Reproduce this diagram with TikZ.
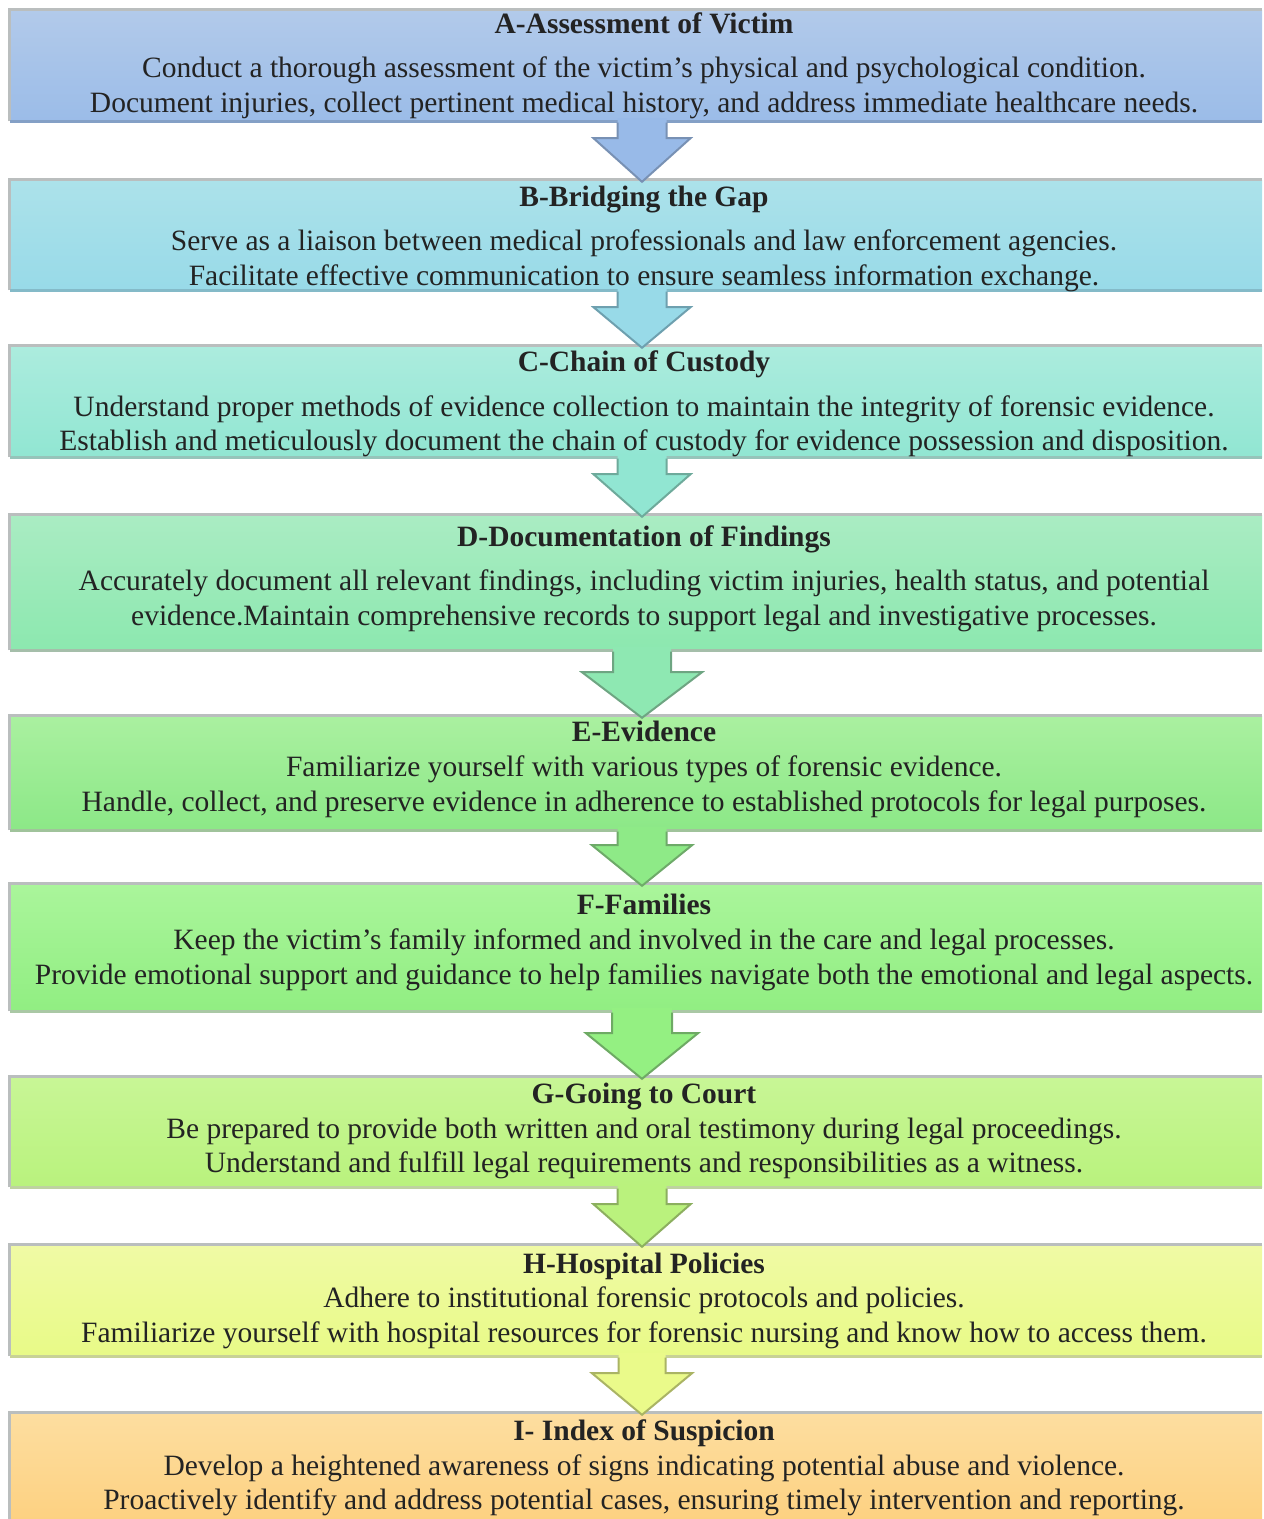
\documentclass[tikz,border=0pt]{standalone}
\usepackage{fontspec}
\setmainfont{Liberation Serif}
\usetikzlibrary{calc}
\definecolor{framegrey}{RGB}{186,190,190}
\definecolor{txt}{RGB}{35,35,35}
\definecolor{aT}{RGB}{178,202,234}\definecolor{aB}{RGB}{155,188,232}\definecolor{aE}{RGB}{132,160,198}
\definecolor{bT}{RGB}{172,226,234}\definecolor{bB}{RGB}{152,218,232}\definecolor{bE}{RGB}{132,186,200}
\definecolor{cT}{RGB}{172,236,222}\definecolor{cB}{RGB}{145,230,210}\definecolor{cE}{RGB}{150,196,186}
\definecolor{dT}{RGB}{170,236,195}\definecolor{dB}{RGB}{140,232,175}\definecolor{dE}{RGB}{165,190,170}
\definecolor{eT}{RGB}{170,240,160}\definecolor{eB}{RGB}{140,232,135}\definecolor{eE}{RGB}{160,195,155}
\definecolor{fT}{RGB}{170,245,155}\definecolor{fB}{RGB}{145,238,130}\definecolor{fE}{RGB}{170,200,165}
\definecolor{gT}{RGB}{200,246,150}\definecolor{gB}{RGB}{185,242,125}\definecolor{gE}{RGB}{190,210,160}
\definecolor{hT}{RGB}{240,250,165}\definecolor{hB}{RGB}{232,250,135}\definecolor{hE}{RGB}{200,210,150}
\definecolor{iT}{RGB}{253,222,160}\definecolor{iB}{RGB}{253,206,122}\definecolor{iE}{RGB}{200,180,140}
\definecolor{arA}{RGB}{152,186,232}\definecolor{olA}{RGB}{120,145,180}
\definecolor{arB}{RGB}{152,218,232}\definecolor{olB}{RGB}{110,160,175}
\definecolor{arC}{RGB}{145,230,210}\definecolor{olC}{RGB}{110,170,155}
\definecolor{arD}{RGB}{142,232,178}\definecolor{olD}{RGB}{110,165,130}
\definecolor{arE}{RGB}{142,234,135}\definecolor{olE}{RGB}{110,170,105}
\definecolor{arF}{RGB}{148,240,130}\definecolor{olF}{RGB}{110,170,100}
\definecolor{arG}{RGB}{186,242,125}\definecolor{olG}{RGB}{140,175,95}
\definecolor{arH}{RGB}{234,250,138}\definecolor{olH}{RGB}{170,180,100}
\newcommand\flowbox[6]{%
  \node[flowrect, top color=#4, bottom color=#5, minimum height={#3-#2}] (#1) at (636,{(#2+#3)/2}) {};
  \draw[line width=3pt, framegrey] (#1.south west) -- (#1.north west) -- (#1.north east);
  \draw[line width=3pt, #6] (#1.south west) -- (#1.south east);}
% from, to, shaft half, head half, head base offset, fill, outline
\newcommand\flowarrow[7]{%
  \fill[#6] ($(#1.south)+(6-#3,-3)$) -- ($(#1.south)+(6-#3,#5)$) -- ($(#1.south)+(6-#4,#5)$)
     -- ($(#2.north)+(6,2)$) -- ($(#1.south)+(6+#4,#5)$) -- ($(#1.south)+(6+#3,#5)$) -- ($(#1.south)+(6+#3,-3)$) -- cycle;
  \draw[#7, line width=2pt, line join=miter] ($(#1.south)+(6-#3,1.5)$) -- ($(#1.south)+(6-#3,#5)$) -- ($(#1.south)+(6-#4,#5)$)
     -- ($(#2.north)+(6,2)$) -- ($(#1.south)+(6+#4,#5)$) -- ($(#1.south)+(6+#3,#5)$) -- ($(#1.south)+(6+#3,1.5)$);}
\tikzset{
  flowrect/.style={rectangle, inner sep=0pt, minimum width=1252pt, draw=none},
  ttl/.style={anchor=base, text=txt, font=\fontsize{29.5}{34}\selectfont\bfseries, inner sep=0pt},
  body/.style={anchor=base, text=txt, font=\fontsize{29.5}{34}\selectfont, inner sep=0pt},
}
\begin{document}
\begin{tikzpicture}[x=1pt,y=-1pt]
\useasboundingbox (0,0) rectangle (1264,1519);
\clip (0,0) rectangle (1264,1519);
\fill[white] (0,0) rectangle (1264,1519);
\flowbox{boxA}{10}{121}{aT}{aB}{aE}
\flowbox{boxB}{180}{290}{bT}{bB}{bE}
\flowbox{boxC}{346}{457}{cT}{cB}{cE}
\flowbox{boxD}{515}{650}{dT}{dB}{dE}
\flowbox{boxE}{716}{830}{eT}{eB}{eE}
\flowbox{boxF}{884}{1011}{fT}{fB}{fE}
\flowbox{boxG}{1077}{1187}{gT}{gB}{gE}
\flowbox{boxH}{1245}{1356}{hT}{hB}{hE}
\flowbox{boxI}{1413}{1545}{iT}{iB}{iE}
% text
\node[ttl] (tA) at (644,33) {A-Assessment of Victim};
\node[body] (tA1) at (644,77) {Conduct a thorough assessment of the victim’s physical and psychological condition.};
\node[body] (tA2) at (644,112) {Document injuries, collect pertinent medical history, and address immediate healthcare needs.};
\node[ttl] (tB) at (644,206) {B-Bridging the Gap};
\node[body] (tB1) at (644,250) {Serve as a liaison between medical professionals and law enforcement agencies.};
\node[body] (tB2) at (644,285) {Facilitate effective communication to ensure seamless information exchange.};
\node[ttl] (tC) at (644,371) {C-Chain of Custody};
\node[body] (tC1) at (644,416) {Understand proper methods of evidence collection to maintain the integrity of forensic evidence.};
\node[body] (tC2) at (644,450) {Establish and meticulously document the chain of custody for evidence possession and disposition.};
\node[ttl] (tD) at (644,546) {D-Documentation of Findings};
\node[body] (tD1) at (644,590) {Accurately document all relevant findings, including victim injuries, health status, and potential};
\node[body] (tD2) at (644,625) {evidence.Maintain comprehensive records to support legal and investigative processes.};
\node[ttl] (tE) at (644,741) {E-Evidence};
\node[body] (tE1) at (644,776) {Familiarize yourself with various types of forensic evidence.};
\node[body] (tE2) at (644,811) {Handle, collect, and preserve evidence in adherence to established protocols for legal purposes.};
\node[ttl] (tF) at (644,914) {F-Families};
\node[body] (tF1) at (644,949) {Keep the victim’s family informed and involved in the care and legal processes.};
\node[body] (tF2) at (644,984) {Provide emotional support and guidance to help families navigate both the emotional and legal aspects.};
\node[ttl] (tG) at (644,1103) {G-Going to Court};
\node[body] (tG1) at (644,1138) {Be prepared to provide both written and oral testimony during legal proceedings.};
\node[body] (tG2) at (644,1172) {Understand and fulfill legal requirements and responsibilities as a witness.};
\node[ttl] (tH) at (644,1273) {H-Hospital Policies};
\node[body] (tH1) at (644,1307) {Adhere to institutional forensic protocols and policies.};
\node[body] (tH2) at (644,1342) {Familiarize yourself with hospital resources for forensic nursing and know how to access them.};
\node[ttl] (tI) at (644,1440) {I- Index of Suspicion};
\node[body] (tI1) at (644,1475) {Develop a heightened awareness of signs indicating potential abuse and violence.};
\node[body] (tI2) at (644,1509) {Proactively identify and address potential cases, ensuring timely intervention and reporting.};
% arrows
\flowarrow{boxA}{boxB}{24.5}{48.5}{17}{arA}{olA}
\flowarrow{boxB}{boxC}{24.5}{48.5}{17}{arB}{olB}
\flowarrow{boxC}{boxD}{24.5}{48.5}{17}{arC}{olC}
\flowarrow{boxD}{boxE}{29}{60}{22}{arD}{olD}
\flowarrow{boxE}{boxF}{24.5}{50}{15}{arE}{olE}
\flowarrow{boxF}{boxG}{30}{56}{22}{arF}{olF}
\flowarrow{boxG}{boxH}{24.5}{48.5}{17}{arG}{olG}
\flowarrow{boxH}{boxI}{23.5}{50}{17}{arH}{olH}
\end{tikzpicture}
\end{document}
